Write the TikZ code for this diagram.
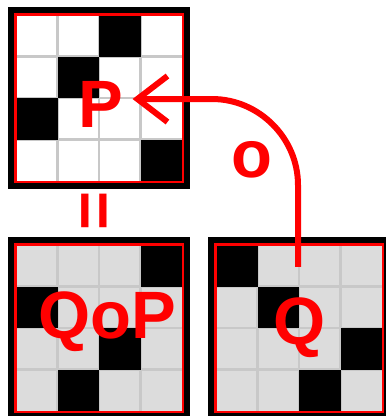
\documentclass[tikz,border=0pt]{standalone}
\usepackage{fontspec}
\setmainfont{Liberation Sans}
\usetikzlibrary{arrows.meta}
\definecolor{cellgray}{HTML}{DCDCDC}
\definecolor{linegray}{HTML}{C8C8C8}
\newcommand\gridbox[4]{%
 \begin{scope}[shift={(#1,#2)}]
  \fill[black] (0,0) rectangle (182,182);
  \fill[#3] (8,8) rectangle (174,174);
  \foreach \k in {1,2,3} {
    \draw[linegray, line width=2.5pt] (8+41.5*\k,8) -- (8+41.5*\k,174);
    \draw[linegray, line width=2.5pt] (8,8+41.5*\k) -- (174,8+41.5*\k);
  }
  \foreach \c/\r in {#4} {\fill[black] (8+41.5*\c,8+41.5*\r) rectangle +(41.5,41.5);}
  \draw[red, line width=2.5pt] (7.25,7.25) rectangle (174.75,174.75);
 \end{scope}}
\begin{document}
\begin{tikzpicture}[x=1pt,y=-1pt,
  lbl/.style={text=red, font=\fontsize{67}{67}\selectfont\bfseries, inner sep=0pt},
  conn/.style={draw=red, line width=6pt, -{Straight Barb[length=30pt,width=46pt]}}]
\useasboundingbox (0,0) rectangle (386,416);
\clip (0,0) rectangle (386,416);
\gridbox{8}{7}{white}{2/0,1/1,0/2,3/3}
\gridbox{8}{237}{cellgray}{3/0,0/1,2/2,1/3}
\gridbox{208}{237}{cellgray}{0/0,1/1,3/2,2/3}
\node[lbl] (P) at (101,104) {P};
\node[lbl] (QoP) at (107,322) {QoP};
\node[lbl] (Q) at (300,328) {Q};
\node[lbl] (o) at (252,160) {o};
\node[lbl, rotate=90] (eq) at (99,211) {=};
\draw[conn, shorten <=31pt, shorten >=9pt] (Q.north -| 298,0) -- (298,185) .. controls (298,138) and (259,99) .. (212,99) -- ([yshift=5pt]P.east);
\end{tikzpicture}
\end{document}
